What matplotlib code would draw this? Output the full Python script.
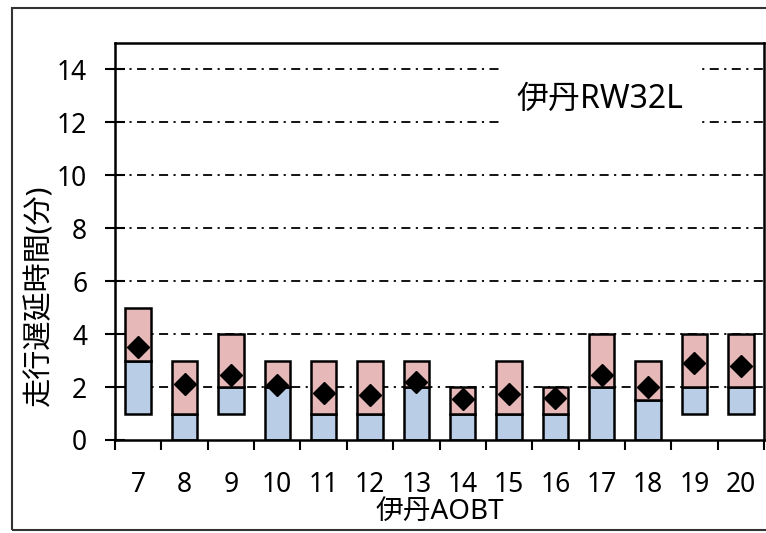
import matplotlib
matplotlib.use("Agg")
import matplotlib.pyplot as plt
from matplotlib.patches import Rectangle
import numpy as np

plt.rcParams['font.family'] = ['Noto Sans', 'Noto Sans CJK JP', 'DejaVu Sans']

# Hourly taxi-delay distribution at Itami RW32L
hours = [7, 8, 9, 10, 11, 12, 13, 14, 15, 16, 17, 18, 19, 20]
q1 = [1, 0, 1, 0, 0, 0, 0, 0, 0, 0, 0, 0, 1, 1]
median = [3, 1, 2, 2, 1, 1, 2, 1, 1, 1, 2, 1.5, 2, 2]
q3 = [5, 3, 4, 3, 3, 3, 3, 2, 3, 2, 4, 3, 4, 4]
mean = [3.5, 2.1, 2.47, 2.08, 1.77, 1.7, 2.2, 1.55, 1.74, 1.57, 2.47, 2.0, 2.9, 2.8]
y_ticks = [0, 2, 4, 6, 8, 10, 12, 14]

blue = '#b9cde6'
pink = '#e6b9b8'

fig = plt.figure(figsize=(7.66, 5.33), dpi=100)
ax = fig.add_axes([115/766, 1 - 440/533, (764-115)/766, (440-43)/533])

x = np.arange(len(hours))
lower = np.array(median) - np.array(q1)
upper = np.array(q3) - np.array(median)
width = 0.55

# dash-dot grid lines
for yv in y_ticks[1:]:
    ax.axhline(yv, color='black', lw=1.3, linestyle=(0, (5, 3, 1.2, 3)), zorder=1)

ax.bar(x, lower, width, bottom=q1, color=blue, edgecolor='black', linewidth=1.8, zorder=2)
ax.bar(x, upper, width, bottom=median, color=pink, edgecolor='black', linewidth=1.8, zorder=2)
ax.plot(x, mean, linestyle='none', marker='D', markersize=11, color='black', zorder=3)

ax.set_xlim(-0.5, len(hours) - 0.5)
ax.set_ylim(0, 15)
ax.set_yticks(y_ticks)
ax.set_yticklabels([str(v) for v in y_ticks], fontsize=19)
ax.tick_params(axis='y', direction='inout', length=14, width=1.5, pad=13)

# category boundaries carry the tick marks; labels sit at category centres
ax.set_xticks(np.arange(len(hours) + 1) - 0.5)
ax.set_xticklabels([])
ax.tick_params(axis='x', which='major', direction='out', length=7, width=1.5)
ax.set_xticks(x, minor=True)
ax.set_xticklabels([str(h) for h in hours], minor=True, fontsize=19)
ax.tick_params(axis='x', which='minor', length=0, pad=22)

for s in ax.spines.values():
    s.set_linewidth(1.8)

ax.text(9.95, 12.86, '伊丹RW32L', fontsize=23, ha='center', va='center',
        bbox=dict(facecolor='white', edgecolor='none', pad=12), zorder=4)

fig.text(440/766, 1 - 512/533, '伊丹AOBT', fontsize=20, ha='center', va='center')
fig.text(40/766, 1 - 295/533, '走行遅延時間(分)', fontsize=21, ha='center', va='center',
         rotation=90)

# outer chart frame
fig.patches.append(Rectangle((12/766, 1 - 530/533), 1.0, (530-8)/533,
                             transform=fig.transFigure, fill=False,
                             edgecolor='#333333', linewidth=1.5))

fig.savefig('out.png', dpi=100)
